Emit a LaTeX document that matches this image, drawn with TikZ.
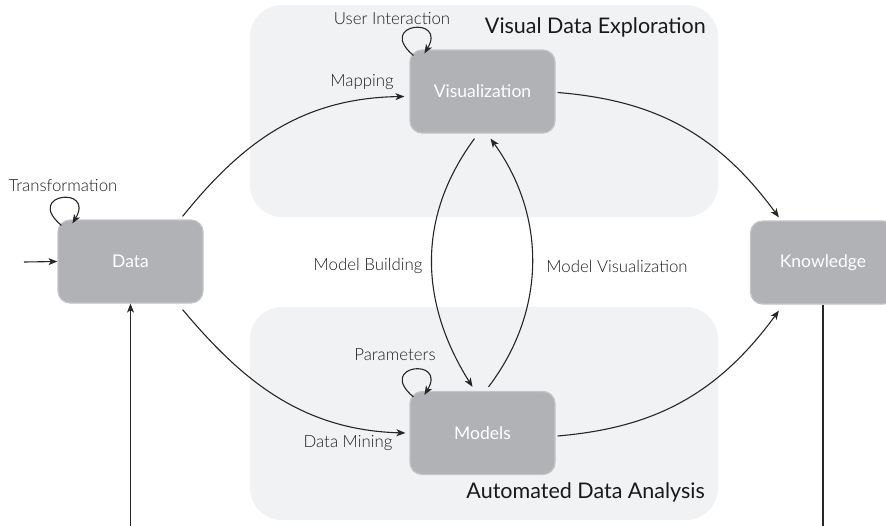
\documentclass[tikz,border=0pt]{standalone}
\usepackage{fontspec}
\setmainfont{Lato}
\newfontfamily\thinfont{Lato Light}
\usetikzlibrary{arrows.meta}
\definecolor{panelgray}{HTML}{F1F2F4}
\definecolor{boxgray}{HTML}{B1B2B5}
\definecolor{boxedge}{HTML}{C4C5C7}
\definecolor{labelgray}{HTML}{1E1E1E}
\tikzset{
  stage/.style={fill=boxgray, draw=boxedge, line width=1.2pt, rounded corners=12pt,
    minimum width=145pt, minimum height=83pt, inner sep=0pt, text=white,
    font=\fontsize{17.5}{21}\selectfont},
  flow/.style={-{Stealth[length=9pt,width=7pt,inset=2.5pt]}, line width=1.1pt, draw=black!85},
  lbl/.style={text=labelgray, inner sep=0pt, font=\thinfont\fontsize{16.8}{19}\selectfont},
  area/.style={text=black!90, inner sep=0pt, anchor=east, font=\fontsize{21.5}{25}\selectfont},
  zone/.style={fill=panelgray, rounded corners=32pt},
  selfloop/.style={flow}
}
\begin{document}
\begin{tikzpicture}[x=1pt,y=-1pt]
\useasboundingbox (0,0) rectangle (886,525);
\clip (0,0) rectangle (886,525);

% background areas
\fill[zone] (250,5) rectangle (718,217);
\fill[zone] (250,307) rectangle (718,520);
\node[area] (vdetitle) at (706,27) {Visual Data Exploration};
\node[area] (adatitle) at (705,492) {Automated Data Analysis};

% stages
\node[stage] (data) at (130.5,261.5) {Data};
\node[stage] (vis) at (482.5,91.5) {Visualization};
\node[stage] (models) at (482.5,433) {Models};
\node[stage] (knowledge) at (823,262.5) {Knowledge};

% entry and feedback lines
\coordinate (entry) at (24,262);
\coordinate (fbleft) at (130.5,530);
\coordinate (fbright) at (823,530);
\draw[flow] (entry) -- (data.west);
\draw[flow] (fbleft) -- (data.south);
\draw[flow, -] (knowledge.south) -- (fbright);

% main flows
\draw[flow] ([shift={(-21,-3)}]data.north east) .. controls (240,145) and (300,98) .. ([shift={(-5,5)}]vis.west);
\draw[flow] ([shift={(-21,6)}]data.south east) .. controls (240,378) and (300,430) .. ([shift={(-4,0)}]models.west);
\draw[flow] ([shift={(2,1)}]vis.east) .. controls (650,100) and (715,130) .. ([shift={(29,-3)}]knowledge.north west);
\draw[flow] ([shift={(2,3)}]models.east) .. controls (650,428) and (715,398) .. ([shift={(29,6)}]knowledge.south west);
\draw[flow] ([shift={(-8,5)}]vis.south) .. controls (418,215) and (418,300) .. ([shift={(-10,-4)}]models.north);
\draw[flow] ([shift={(6,-4)}]models.north) .. controls (547,310) and (546,215) .. ([shift={(8,5)}]vis.south);

% self loops
\foreach \n in {data,vis,models}{
  \draw[selfloop, shift={(\n.north west)}] (4,6) .. controls (-34,-26) and (38,-34) .. (15,4);
}

% labels
\node[lbl] (ltrans) at (63,186) {Transformation};
\node[lbl] (luser) at (392,19) {User Interaction};
\node[lbl] (lparam) at (395,355) {Parameters};
\node[lbl] (lmap) at (362,82) {Mapping};
\node[lbl] (lmine) at (348,443) {Data Mining};
\node[lbl] (lbuild) at (368,266) {Model Building};
\node[lbl] (lmvis) at (617,266) {Model Visualization};
\end{tikzpicture}
\end{document}
